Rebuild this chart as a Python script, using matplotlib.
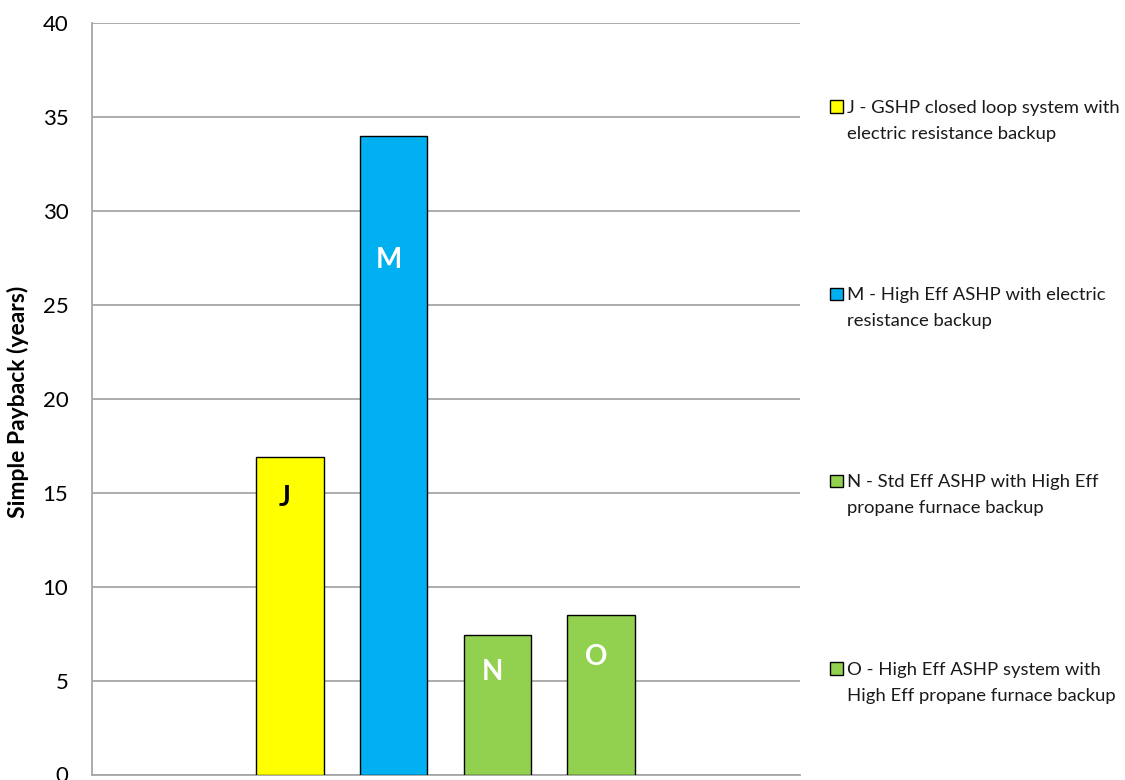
import matplotlib.pyplot as plt
import numpy as np

plt.rcParams['font.family'] = ['Lato', 'DejaVu Sans']

codes = ['J', 'M', 'N', 'O']
payback = [16.88, 33.96, 7.43, 8.48]
legend_labels = [
    'J - GSHP closed loop system with\nelectric resistance backup',
    'M - High Eff ASHP with electric\nresistance backup',
    'N - Std Eff ASHP with High Eff\npropane furnace backup',
    'O - High Eff ASHP system with\nHigh Eff propane furnace backup',
]
yticks = [0, 5, 10, 15, 20, 25, 30, 35, 40]

colors = ['#FFFF00', '#00B0F0', '#92D050', '#92D050']
text_colors = ['black', 'white', 'white', 'white']
label_drop = [29, 89, 27, 30]  # points below bar top

W, H = 1125, 780
fig = plt.figure(figsize=(W / 100, H / 100), dpi=100)
ax = fig.add_axes([92 / W, 5.5 / H, 708 / W, 751.5 / H])

x = np.arange(len(codes))
ax.bar(x, payback, width=0.65, color=colors, edgecolor='black',
       linewidth=1, zorder=3)

for xi, v, c, tc, d in zip(x, payback, codes, text_colors, label_drop):
    ax.annotate(c, (xi - 0.05, v), xytext=(0, -d), textcoords='offset points',
                ha='center', va='center', fontsize=20, fontweight='bold',
                color=tc, zorder=4)

ax.set_ylim(0, 40)
ax.set_xlim(-1.91, 4.92)
ax.set_yticks(yticks)
ax.set_yticklabels([str(t) for t in yticks], fontsize=16)
ax.set_xticks([])
ax.tick_params(axis='y', length=0, pad=17)
ax.yaxis.grid(True, color='#A6A6A6', linewidth=1.3, zorder=0)
ax.set_axisbelow(True)
for s in ['top', 'right']:
    ax.spines[s].set_visible(False)
for s in ['left', 'bottom']:
    ax.spines[s].set_color('#A6A6A6')
    ax.spines[s].set_linewidth(1.3)

ax.set_ylabel('Simple Payback (years)', fontsize=16.5, fontweight='bold')
ax.yaxis.set_label_coords(-0.089, 0.496)

# legend drawn by hand: square beside first line, lines 26 px apart
for i, (lab, c) in enumerate(zip(legend_labels, colors)):
    base = 112.7 + i * 187.3
    fig.patches.append(plt.Rectangle((830 / W, 1 - base / H), 12.5 / W, 12.5 / H,
                                     transform=fig.transFigure, facecolor=c,
                                     edgecolor='black', linewidth=1))
    for k, line in enumerate(lab.split('\n')):
        fig.text(847 / W, 1 - (base + 26 * k) / H, line, fontsize=13.3,
                 va='baseline', ha='left', color='#1a1a1a')

fig.savefig('out.png', dpi=100)
